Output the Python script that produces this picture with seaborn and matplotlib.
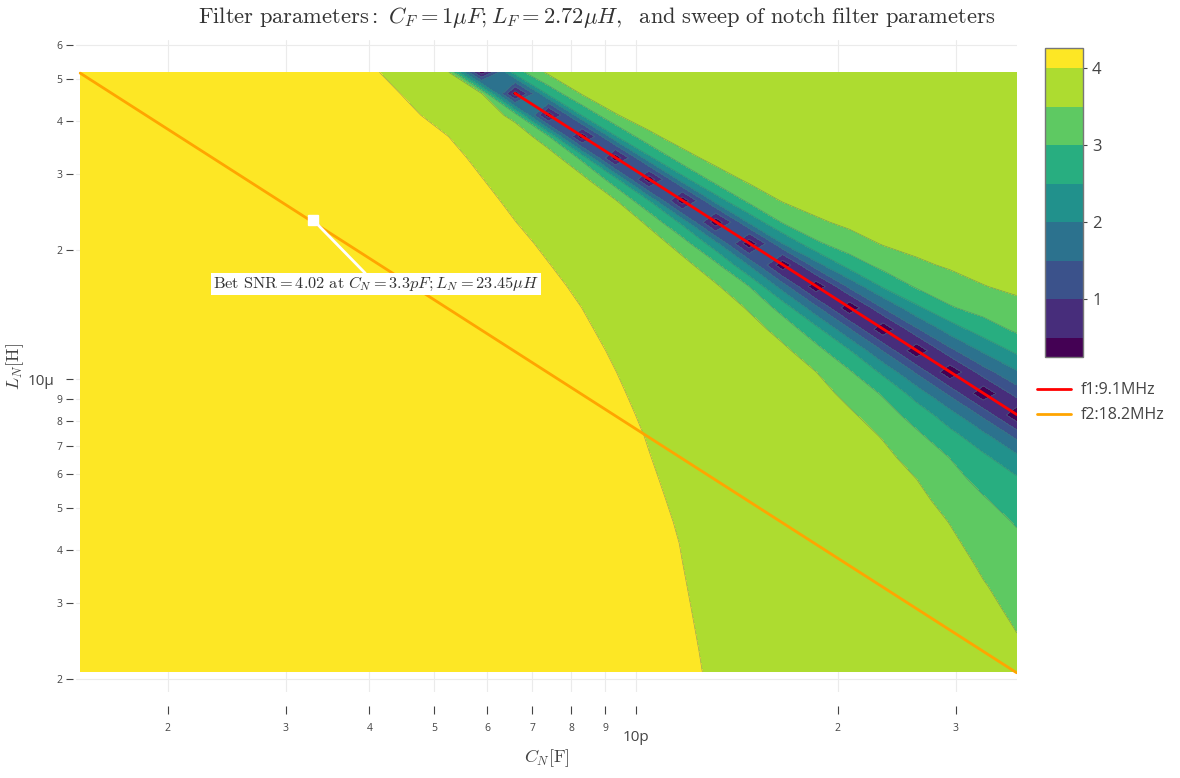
import numpy as np
import matplotlib
matplotlib.use("Agg")
import matplotlib.pyplot as plt
import seaborn as sns
from matplotlib.cm import ScalarMappable
from matplotlib.colors import ListedColormap, BoundaryNorm
from matplotlib.ticker import FixedLocator, FuncFormatter

# sweep of the notch filter parameters
C_MIN, C_MAX = 1.48e-12, 37.0e-12      # F
L_MIN, L_MAX = 2.076e-6, 51.9e-6       # H
N_GRID = 29

F1, F2 = 9.1e6, 18.2e6                 # Hz
BEST_C, BEST_L, BEST_SNR = 3.3e-12, 23.45e-6, 4.02

# edge of the SNR > 4 (yellow) region
EDGE_L = [2.10, 4.28, 7.48, 10.95, 12.2, 14.9, 19.5, 23.7, 29.9, 36.5, 41.3, 52.5]   # uH
EDGE_C = [12.54, 11.55, 10.24, 9.21, 8.84, 8.25, 7.26, 6.55, 5.85, 5.28, 4.76, 4.11]  # pF

# notch valley along the f1 line: distance (decades of L) above / below the line
# where the SNR reaches each level, at a few values of C_N
VALLEY_C = [5.8, 8.8, 12.5, 17.6, 24.8, 30.5, 36.5]   # pF
VALLEY_LEVELS = [1.0, 1.5, 2.0, 2.5, 3.0, 3.5]
VALLEY_UP = [
    [0.009, 0.019, 0.028, 0.037, 0.051, 0.072],
    [0.012, 0.023, 0.035, 0.049, 0.068, 0.098],
    [0.014, 0.028, 0.040, 0.056, 0.077, 0.117],
    [0.019, 0.037, 0.051, 0.070, 0.098, 0.149],
    [0.026, 0.051, 0.075, 0.100, 0.135, 0.200],
    [0.028, 0.058, 0.086, 0.117, 0.156, 0.238],
    [0.033, 0.068, 0.103, 0.138, 0.184, 0.268],
]
VALLEY_DOWN = [
    [0.007, 0.012, 0.019, 0.026, 0.035, 0.047],
    [0.012, 0.021, 0.030, 0.042, 0.058, 0.089],
    [0.016, 0.030, 0.042, 0.058, 0.082, 0.131],
    [0.023, 0.044, 0.063, 0.084, 0.121, 0.186],
    [0.028, 0.054, 0.079, 0.112, 0.163, 0.273],
    [0.030, 0.058, 0.086, 0.126, 0.210, 0.373],
    [0.030, 0.058, 0.089, 0.135, 0.259, 0.508],
]
SNR_DIP = 0.05
SNR_LEVELS = [0.25, 0.5, 1.0, 1.5, 2.0, 2.5, 3.0, 3.5, 4.0, 4.26]

# build the SNR map on the sweep grid
c_grid = np.geomspace(C_MIN, C_MAX, N_GRID)
l_grid = np.geomspace(L_MIN, L_MAX, N_GRID)
lc, ll = np.meshgrid(np.log10(c_grid), np.log10(l_grid))
step = np.log10(C_MAX / C_MIN) / (N_GRID - 1)

edge = np.interp(ll, np.log10(EDGE_L) - 6, np.log10(EDGE_C) - 12)
snr = np.clip(4.0 + 0.02 * (edge - lc) / step, 3.8, BEST_SNR)

lc_f1 = np.log10(1 / (2 * np.pi * F1) ** 2)
s = ll + lc - lc_f1
vc = np.log10(VALLEY_C) - 12
up, down = np.array(VALLEY_UP), np.array(VALLEY_DOWN)
for r in range(N_GRID):
    for k in range(N_GRID):
        tab = up if s[r, k] >= 0 else down
        offs = [np.interp(lc[r, k], vc, tab[:, m]) for m in range(len(VALLEY_LEVELS))]
        xs = [0.0] + offs + [2 * offs[-1]]
        ys = [SNR_DIP] + VALLEY_LEVELS + [4.3]
        snr[r, k] = min(snr[r, k], np.interp(abs(s[r, k]), xs, ys))

# resonance lines
l_f1 = 1 / ((2 * np.pi * F1) ** 2 * c_grid)
l_f2 = 1 / ((2 * np.pi * F2) ** 2 * c_grid)
keep1, keep2 = l_f1 <= L_MAX, l_f2 <= L_MAX

# ---- plot ----
sns.set_theme(style="white")
plt.rcParams["font.family"] = ["Open Sans", "DejaVu Sans"]
plt.rcParams["mathtext.fontset"] = "cm"

fig = plt.figure(figsize=(11.8, 7.78), dpi=100)
ax = fig.add_axes([0.0646, 0.1105, 0.797, 0.838])
ax.set_xscale("log")
ax.set_yscale("log")

colors = [plt.cm.viridis(v) for v in np.linspace(0, 1, 9)]
cmap = ListedColormap(colors).with_extremes(under=colors[0])
norm = BoundaryNorm(SNR_LEVELS, cmap.N)
cf = ax.contourf(c_grid, l_grid, snr, levels=SNR_LEVELS, cmap=cmap, norm=norm,
                 extend="min", zorder=1)
ax.contour(c_grid, l_grid, snr, levels=SNR_LEVELS[1:-1], colors="#4d6f7a",
           linewidths=0.5, alpha=0.55, zorder=2)

sns.lineplot(x=c_grid[keep1], y=l_f1[keep1], ax=ax, color="red", lw=2,
             sort=False, estimator=None, label="f1:9.1MHz", zorder=3)
sns.lineplot(x=c_grid[keep2], y=l_f2[keep2], ax=ax, color="#ffa500", lw=2,
             sort=False, estimator=None, label="f2:18.2MHz", zorder=3)
handles, labels = ax.get_legend_handles_labels()
ax.get_legend().remove()

ax.plot([BEST_C], [BEST_L], marker="s", ms=7, color="white", zorder=5)
ax.annotate(r"$\mathrm{Bet\ SNR} = %.2f\ \mathrm{at}\ C_N = 3.3pF; L_N = 23.45\mu H$" % BEST_SNR,
            xy=(BEST_C, BEST_L), xytext=(45, -46), textcoords="offset points",
            ha="center", va="center", fontsize=11.8, color="#333",
            bbox=dict(boxstyle="square,pad=0.12", fc="white", ec="none"),
            arrowprops=dict(arrowstyle="-", color="white", lw=2, shrinkA=0, shrinkB=0),
            zorder=6)

ax.set_xlim(1.46e-12, 37e-12)
ax.set_ylim(1.864e-6, 61.7e-6)

# ticks like a log axis with SI prefixes
x_major = [1e-11]
x_minor = [m * 1e-12 for m in range(2, 10)] + [2e-11, 3e-11]
y_major = [1e-5]
y_minor = [m * 1e-6 for m in range(2, 10)] + [m * 1e-5 for m in range(2, 7)]
digit = FuncFormatter(lambda v, p: "%d" % round(v / 10 ** np.floor(np.log10(v) + 1e-9)))
ax.xaxis.set_major_locator(FixedLocator(x_major))
ax.xaxis.set_minor_locator(FixedLocator(x_minor))
ax.yaxis.set_major_locator(FixedLocator(y_major))
ax.yaxis.set_minor_locator(FixedLocator(y_minor))
ax.xaxis.set_major_formatter(FuncFormatter(lambda v, p: "10p"))
ax.yaxis.set_major_formatter(FuncFormatter(lambda v, p: "10µ"))
ax.xaxis.set_minor_formatter(digit)
ax.yaxis.set_minor_formatter(digit)

for sp in ax.spines.values():
    sp.set_visible(False)
ax.spines["bottom"].set_position(("outward", 10))
ax.spines["left"].set_position(("outward", 2))
ax.tick_params(axis="x", which="both", direction="out", length=6, width=0.8,
               color="#444", labelcolor="#444", bottom=True)
ax.tick_params(axis="x", which="minor", labelsize=7.5, pad=6)
ax.tick_params(axis="x", which="major", labelsize=11, pad=11)
ax.tick_params(axis="y", which="both", direction="out", length=5, width=0.8,
               color="#444", labelcolor="#444", left=True)
ax.tick_params(axis="y", which="minor", labelsize=7.5, pad=3)
ax.tick_params(axis="y", which="major", labelsize=11, pad=9)
ax.grid(True, which="both", color="#ebebeb", lw=0.8)
ax.set_axisbelow(True)

ax.set_xlabel(r"$C_N[\mathrm{F}]$", fontsize=13, color="#444", labelpad=2)
ax.set_ylabel(r"$L_N[\mathrm{H}]$", fontsize=13, color="#444", labelpad=1)

fig.text(0.506, 0.978,
         r"$\mathrm{Filter\ parameters:}\ C_F = 1\mu F; L_F = 2.72\mu H,\ \ \mathrm{and\ sweep\ of\ notch\ filter\ parameters}$",
         ha="center", va="center", fontsize=16.2, color="#333")

cax = fig.add_axes([0.8856, 0.5411, 0.0322, 0.397])
cb = fig.colorbar(ScalarMappable(norm=norm, cmap=ListedColormap(colors)), cax=cax,
                  ticks=[1, 2, 3, 4], spacing="proportional")
cb.ax.minorticks_off()
cb.outline.set_edgecolor("#777")
cb.outline.set_linewidth(1)
cb.ax.tick_params(labelsize=12, colors="#444", length=3, width=0.8)

fig.legend(handles, labels, loc="upper left", bbox_to_anchor=(0.867, 0.527),
           frameon=False, fontsize=11.5, handlelength=2.1, handletextpad=0.6,
           labelspacing=0.55, labelcolor="#444")

fig.savefig("out.png", dpi=100)
